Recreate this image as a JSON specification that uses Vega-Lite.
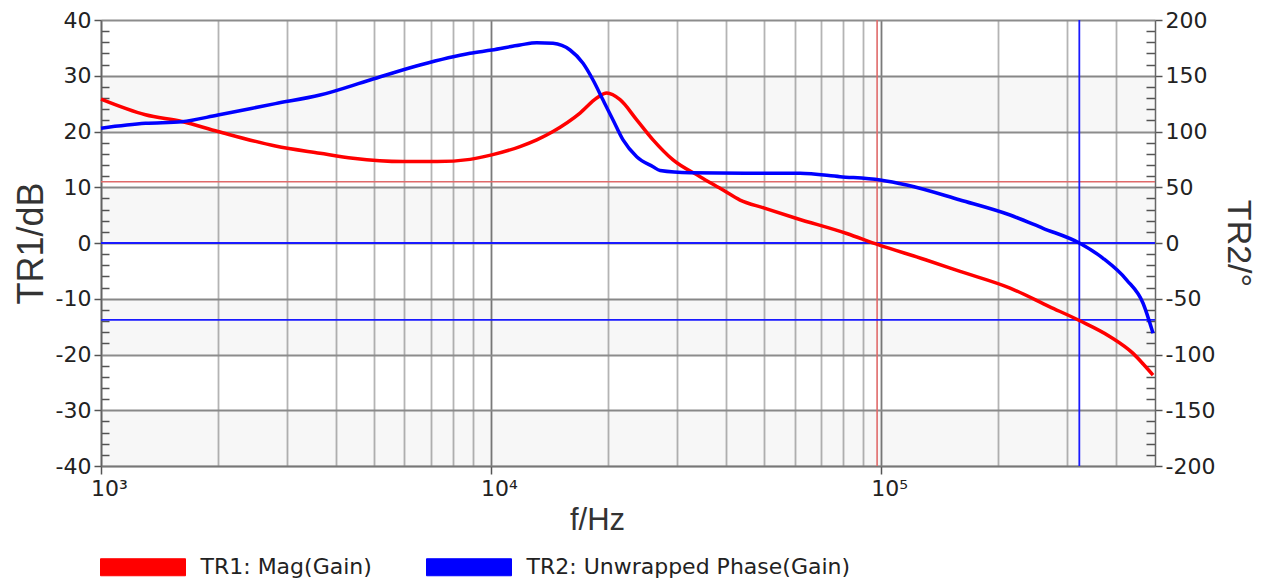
{
  "$schema": "https://vega.github.io/schema/vega-lite/v6.json",
  "width": 1054,
  "height": 446,
  "autosize": {"type": "none"},
  "padding": {"left": 101, "top": 20, "right": 120, "bottom": 119},
  "background": "white",
  "config": {
    "view": {"stroke": null},
    "font": "DejaVu Sans"
  },
  "datasets": {
    "mag": [
      {"f": 1000, "db": 25.8}, {"f": 1300, "db": 23.0}, {"f": 1611, "db": 21.8}, {"f": 1995, "db": 20.0},
      {"f": 2800, "db": 17.4}, {"f": 3643, "db": 16.1}, {"f": 4427, "db": 15.2}, {"f": 5945, "db": 14.6},
      {"f": 7271, "db": 14.6}, {"f": 8835, "db": 15.0}, {"f": 10042, "db": 15.8}, {"f": 11867, "db": 17.3},
      {"f": 13100, "db": 18.5}, {"f": 14420, "db": 20.0}, {"f": 16912, "db": 23.3}, {"f": 18664, "db": 26.0},
      {"f": 19803, "db": 26.9}, {"f": 21423, "db": 25.7}, {"f": 23636, "db": 22.1}, {"f": 26026, "db": 18.5},
      {"f": 29290, "db": 14.9}, {"f": 34356, "db": 11.9}, {"f": 39343, "db": 9.5}, {"f": 43503, "db": 7.7},
      {"f": 50000, "db": 6.3}, {"f": 60783, "db": 4.4}, {"f": 81660, "db": 1.7}, {"f": 98243, "db": -0.3},
      {"f": 130000, "db": -3.0}, {"f": 159440, "db": -5.1}, {"f": 214230, "db": -8.1}, {"f": 270000, "db": -11.4},
      {"f": 322430, "db": -13.9}, {"f": 386600, "db": -16.8}, {"f": 442800, "db": -19.8}, {"f": 470000, "db": -21.7},
      {"f": 498200, "db": -23.7}
    ],
    "phase": [
      {"f": 1000, "deg": 103}, {"f": 1300, "deg": 107.3}, {"f": 1611, "deg": 108.8}, {"f": 1995, "deg": 114.8},
      {"f": 2800, "deg": 125}, {"f": 3643, "deg": 132.7}, {"f": 4895, "deg": 146.2}, {"f": 6576, "deg": 159.6},
      {"f": 8835, "deg": 170.1}, {"f": 10042, "deg": 173.1}, {"f": 11867, "deg": 177.6}, {"f": 13099, "deg": 179.7},
      {"f": 14420, "deg": 179.1}, {"f": 15946, "deg": 173.1}, {"f": 17216, "deg": 161.2}, {"f": 18262, "deg": 146.2},
      {"f": 19375, "deg": 128.2}, {"f": 20551, "deg": 110.3}, {"f": 21804, "deg": 92.4}, {"f": 23636, "deg": 77.4},
      {"f": 26026, "deg": 68.4}, {"f": 27122, "deg": 65}, {"f": 32385, "deg": 63.0}, {"f": 45000, "deg": 62.6},
      {"f": 61985, "deg": 62.5}, {"f": 78523, "deg": 59.5}, {"f": 99407, "deg": 56.5}, {"f": 116360, "deg": 52},
      {"f": 159440, "deg": 38.6}, {"f": 214230, "deg": 25.1}, {"f": 260260, "deg": 13.2}, {"f": 322430, "deg": 0},
      {"f": 370930, "deg": -13.7}, {"f": 426580, "deg": -33.2}, {"f": 469700, "deg": -54}, {"f": 498200, "deg": -81}
    ],
    "bands": [
      {"lo": 20, "hi": 30}, {"lo": 0, "hi": 10}, {"lo": -20, "hi": -10}, {"lo": -40, "hi": -30}
    ]
  },
  "layer": [
    {
      "layer": [
        {
          "data": {"name": "bands"},
          "mark": {"type": "rect", "color": "#000000", "opacity": 0.03},
          "encoding": {
            "y": {
              "field": "lo", "type": "quantitative",
              "scale": {"domain": [-40, 40], "nice": false, "zero": false},
              "axis": {
                "orient": "left",
                "values": [-40, -38, -36, -34, -32, -30, -28, -26, -24, -22, -20, -18, -16, -14, -12, -10, -8, -6, -4, -2, 0, 2, 4, 6, 8, 10, 12, 14, 16, 18, 20, 22, 24, 26, 28, 30, 32, 34, 36, 38, 40],
                "tickCount": 100,
                "labelExpr": "abs(datum.value) % 10 < 0.5 ? '' + datum.value : ''",
                "grid": true,
                "gridWidth": 1.8,
                "gridColor": {"condition": {"test": "abs(datum.value) % 10 < 0.5", "value": "#8c8c8c"}, "value": "rgba(0,0,0,0)"},
                "tickSize": {"condition": {"test": "abs(datum.value) % 10 < 0.5", "value": 7}, "value": -8},
                "tickColor": "#555555",
                "tickWidth": 1.5,
                "domainColor": "#666666",
                "domainWidth": 1.5,
                "labelFont": "DejaVu Sans",
                "labelFontSize": 22,
                "labelColor": "#222222",
                "labelPadding": 3,
                "labelOverlap": false,
                "labelFlush": false,
                "title": "TR1/dB",
                "titleFont": "Liberation Sans",
                "titleFontSize": 36,
                "titleFontWeight": "normal",
                "titleColor": "#333333",
                "titlePadding": 5
              }
            },
            "y2": {"field": "hi"}
          }
        },
        {
          "data": {"values": [{"f": 97700}]},
          "mark": {"type": "rule", "color": "#e06a6a", "strokeWidth": 1.6},
          "encoding": {
            "x": {
              "field": "f", "type": "quantitative",
              "scale": {"type": "log", "domain": [1000, 504000], "nice": false},
              "axis": {
                "values": [1000, 2000, 3000, 4000, 5000, 6000, 7000, 8000, 9000, 10000, 20000, 30000, 40000, 50000, 60000, 70000, 80000, 90000, 100000, 200000, 300000, 400000],
                "tickCount": 100,
                "labelExpr": "datum.value == 1000 ? '10³' : datum.value == 10000 ? '10⁴' : datum.value == 100000 ? '10⁵' : ''",
                "grid": true,
                "gridWidth": 1.8,
                "gridColor": {"condition": {"test": "datum.value == 1000 || datum.value == 10000 || datum.value == 100000", "value": "#7a7a7a"}, "value": "#b4b4b4"},
                "tickOpacity": {"condition": {"test": "datum.value == 1000 || datum.value == 10000 || datum.value == 100000", "value": 1}, "value": 0},
                "tickSize": 8,
                "tickColor": "#555555",
                "tickWidth": 1.5,
                "domainColor": "#777777",
                "domainWidth": 1.5,
                "labelFont": "DejaVu Sans",
                "labelFontSize": 22,
                "labelColor": "#222222",
                "labelPadding": 4,
                "labelOffset": 8,
                "labelFlush": false,
                "labelOverlap": false,
                "title": "f/Hz",
                "titleFont": "Liberation Sans",
                "titleFontSize": 31,
                "titleFontWeight": "normal",
                "titleColor": "#333333",
                "titlePadding": 6,
                "titleX": 496
              }
            }
          }
        },
        {
          "data": {"values": [{"db": 11}]},
          "mark": {"type": "rule", "color": "#e06a6a", "strokeWidth": 1.6},
          "encoding": {"y": {"field": "db", "type": "quantitative", "scale": {"domain": [-40, 40], "nice": false, "zero": false}}}
        },
        {
          "data": {"values": [{"db": 0}, {"db": -13.8}]},
          "mark": {"type": "rule", "color": "#1a1aff", "strokeWidth": 1.8},
          "encoding": {"y": {"field": "db", "type": "quantitative", "scale": {"domain": [-40, 40], "nice": false, "zero": false}}}
        },
        {
          "data": {"values": [{"f": 322400}]},
          "mark": {"type": "rule", "color": "#1a1aff", "strokeWidth": 1.8},
          "encoding": {"x": {"field": "f", "type": "quantitative", "scale": {"type": "log", "domain": [1000, 504000], "nice": false}}}
        },
        {
          "data": {"name": "mag"},
          "mark": {"type": "line", "strokeWidth": 3.5, "interpolate": "monotone"},
          "encoding": {
            "x": {"field": "f", "type": "quantitative", "scale": {"type": "log", "domain": [1000, 504000], "nice": false}},
            "y": {"field": "db", "type": "quantitative", "scale": {"domain": [-40, 40], "nice": false, "zero": false}},
            "color": {
              "datum": "TR1: Mag(Gain)",
              "scale": {"domain": ["TR1: Mag(Gain)", "TR2: Unwrapped Phase(Gain)"], "range": ["#ff0000", "#0000ff"]},
              "legend": {
                "orient": "none",
                "legendX": 24.5,
                "legendY": 529.5,
                "direction": "horizontal",
                "title": null,
                "padding": 0,
                "symbolType": "M-2.5,-0.5H2.5V0.5H-2.5Z",
                "symbolSize": 1156,
                "symbolStrokeWidth": 1,
                "labelFont": "DejaVu Sans",
                "labelFontSize": 22,
                "labelColor": "#222222",
                "labelOffset": 40,
                "columnPadding": 52,
                "labelLimit": 500,
                "encode": {
                  "symbols": {
                    "update": {
                      "fill": {"scale": "color", "field": "value"},
                      "stroke": {"value": "#555555"},
                      "strokeWidth": {"value": 1},
                      "opacity": {"value": 1}
                    }
                  }
                }
              }
            }
          }
        }
      ]
    },
    {
      "data": {"name": "phase"},
      "mark": {"type": "line", "strokeWidth": 3.5, "interpolate": "monotone"},
      "encoding": {
        "x": {"field": "f", "type": "quantitative", "scale": {"type": "log", "domain": [1000, 504000], "nice": false}},
        "y": {
          "field": "deg", "type": "quantitative",
          "scale": {"domain": [-200, 200], "nice": false, "zero": false},
          "axis": {
            "orient": "right",
            "values": [-200, -190, -180, -170, -160, -150, -140, -130, -120, -110, -100, -90, -80, -70, -60, -50, -40, -30, -20, -10, 0, 10, 20, 30, 40, 50, 60, 70, 80, 90, 100, 110, 120, 130, 140, 150, 160, 170, 180, 190, 200],
            "tickCount": 100,
            "labelExpr": "datum.value % 50 == 0 ? '' + datum.value : ''",
            "grid": false,
            "tickSize": {"condition": {"test": "datum.value % 50 == 0", "value": 7}, "value": -9},
            "tickColor": "#555555",
            "tickWidth": 1.5,
            "domainColor": "#666666",
            "domainWidth": 1.5,
            "labelFont": "DejaVu Sans",
            "labelFontSize": 22,
            "labelColor": "#222222",
            "labelPadding": 3,
            "labelOverlap": false,
            "labelFlush": false,
            "title": "TR2/°",
            "titleFont": "Liberation Sans",
            "titleFontSize": 34,
            "titleFontWeight": "normal",
            "titleColor": "#333333",
            "titlePadding": 6
          }
        },
        "color": {"datum": "TR2: Unwrapped Phase(Gain)"}
      }
    }
  ],
  "resolve": {"scale": {"y": "independent"}}
}
